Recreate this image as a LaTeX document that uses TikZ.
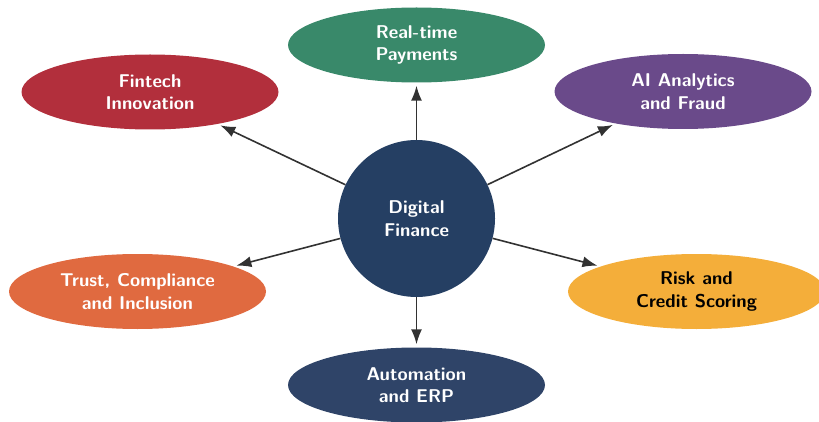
\documentclass[tikz,border=0pt]{standalone}
\usepackage{fontspec}
\usepackage{tikz}
\usetikzlibrary{positioning}
\usetikzlibrary{shapes.geometric}
\usetikzlibrary{arrows.meta}

\definecolor{hubblue}{RGB}{37,63,99}
\definecolor{paygreen}{RGB}{57,137,106}
\definecolor{finred}{RGB}{178,47,60}
\definecolor{aipurple}{RGB}{106,74,138}
\definecolor{trustorange}{RGB}{224,106,64}
\definecolor{riskyellow}{RGB}{244,174,58}
\definecolor{autonavy}{RGB}{47,68,104}
\definecolor{arrowgray}{RGB}{50,50,50}

\begin{document}
\begin{tikzpicture}[x=1pt,y=1pt,
  topic/.style={ellipse,minimum width=257pt,minimum height=75pt,inner sep=0pt,
    align=center,text=white,font=\sffamily\bfseries\fontsize{18.5}{22.5}\selectfont},
  hub/.style={circle,minimum size=157pt,inner sep=0pt,fill=hubblue,
    align=center,text=white,font=\sffamily\bfseries\fontsize{18.5}{22.5}\selectfont},
  link/.style={-{Latex[length=15pt,width=11pt]},line width=1.6pt,draw=arrowgray,shorten >=3pt}]
 \useasboundingbox (0,0) rectangle (819,421);
 \node[hub] (digital) at (416.5,202.5) {Digital\\Finance};
 \node[topic,fill=paygreen] (payments) at (416.5,376) {Real-time\\Payments};
 \node[topic,fill=finred] (fintech) at (150,329) {Fintech\\Innovation};
 \node[topic,fill=aipurple] (analytics) at (683,329.5) {AI Analytics\\and Fraud};
 \node[topic,fill=trustorange] (trust) at (137.5,129.5) {Trust, Compliance\\and Inclusion};
 \node[topic,fill=riskyellow,text=black] (risk) at (696.5,129.5) {Risk and\\Credit Scoring};
 \node[topic,fill=autonavy] (automation) at (416.5,36) {Automation\\and ERP};
 \foreach \t in {payments,fintech,analytics,trust,risk,automation}
  \draw[link] (digital) -- (\t);
\end{tikzpicture}
\end{document}
